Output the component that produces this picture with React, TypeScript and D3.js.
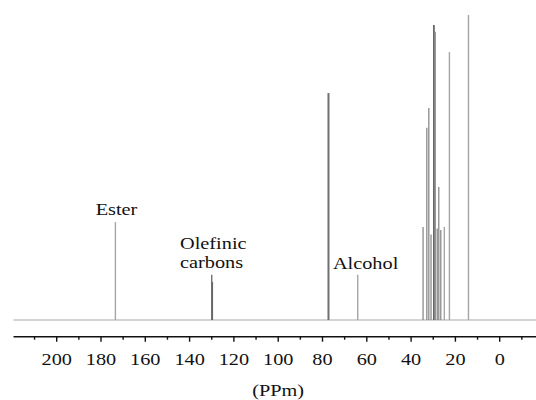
import React from "react";
import * as d3 from "d3";

// 13C NMR spectrum: chemical shifts (ppm) and relative intensities
const peakShifts = [
  173.5, 130.0, 129.7, 77.3, 64.1,
  34.6, 32.9, 32.0, 31.0, 29.7, 29.1, 28.2, 27.5, 26.6, 25.0, 22.7, 14.1,
];
const peakIntensities = [
  32.1, 14.8, 12.5, 74.4, 14.8,
  30.5, 63.0, 69.5, 28.0, 96.7, 94.5, 30.0, 43.6, 29.5, 30.5, 87.9, 100,
];

const majorTicks = [200, 180, 160, 140, 120, 100, 80, 60, 40, 20, 0];
const minorTicks = [210, 190, 170, 150, 130, 110, 90, 70, 50, 30, 10, -10];

const annotations = [
  { lines: ["Ester"], ppm: 182.4, y: 215 },
  { lines: ["Olefinic", "carbons"], ppm: 144.3, y: 248.5 },
  { lines: ["Alcohol"], ppm: 75.3, y: 269.3 },
];

const axisTitle = "(PPm)";

const W = 536;
const H = 400;
const FONT = "'Liberation Serif', 'Times New Roman', serif";
const FS = 17.5;
const STRETCH = 1.16;

export default function App() {
  const x = d3.scaleLinear().domain([200, 0]).range([56.7, 499.7]);
  const y = d3.scaleLinear().domain([0, 100]).range([320, 15]);
  const axisY = 336.7;
  const left = x(219.5);
  const right = x(-16.5);

  const line = d3.line<[number, number]>().x((d) => x(d[0])).y((d) => y(d[1]));

  const peaks = peakShifts.map((ppm, i) => ({ ppm, v: peakIntensities[i] }));

  const peakStyle = (ppm: number) => {
    if (Math.abs(ppm - 77.3) < 0.5) return { stroke: "#6f6f6f", w: 2 };
    if (Math.abs(ppm - 29.7) < 0.3) return { stroke: "#555", w: 1.6 };
    if (ppm > 128 && ppm < 131) return { stroke: "#666", w: 1.3 };
    if (ppm < 36 && ppm > 26) return { stroke: "#8a8a8a", w: 1.3 };
    return { stroke: "#a5a5a5", w: 1.4 };
  };

  return (
    <svg
      width={W}
      height={H}
      style={{ position: "absolute", left: 0, top: 0, background: "#fff" }}
      fontFamily={FONT}
    >
      {/* spectrum baseline */}
      <path
        d={line([[219.5, 0], [-16.5, 0]]) || ""}
        stroke="#c4c4c4"
        strokeWidth={1.5}
        fill="none"
      />
      {/* resonance lines */}
      {peaks.map((p, i) => {
        const s = peakStyle(p.ppm);
        return (
          <path
            key={i}
            d={line([[p.ppm, 0], [p.ppm, p.v]]) || ""}
            stroke={s.stroke}
            strokeWidth={s.w}
            fill="none"
          />
        );
      })}

      {/* x axis */}
      <line x1={left} x2={right} y1={axisY} y2={axisY} stroke="#111" strokeWidth={1.6} />
      {majorTicks.map((t) => (
        <g key={"M" + t}>
          <line x1={x(t)} x2={x(t)} y1={axisY} y2={axisY + 5} stroke="#111" strokeWidth={1.4} />
          <text
            transform={`translate(${x(t)},365) scale(${STRETCH},1)`}
            textAnchor="middle"
            fontSize={FS}
            fill="#111"
          >
            {t}
          </text>
        </g>
      ))}
      {minorTicks.map((t) => (
        <line
          key={"m" + t}
          x1={x(t)}
          x2={x(t)}
          y1={axisY}
          y2={axisY + 3}
          stroke="#111"
          strokeWidth={1.4}
        />
      ))}
      <text
        transform={`translate(${x(100)},395.5) scale(${STRETCH},1)`}
        textAnchor="middle"
        fontSize={FS}
        fill="#111"
      >
        {axisTitle}
      </text>

      {/* peak group labels */}
      {annotations.map((a, i) =>
        a.lines.map((ln, j) => (
          <text
            key={i + "-" + j}
            transform={`translate(${x(a.ppm)},${a.y + j * 19.5}) scale(${STRETCH},1)`}
            fontSize={FS}
            fill="#111"
          >
            {ln}
          </text>
        ))
      )}
    </svg>
  );
}
